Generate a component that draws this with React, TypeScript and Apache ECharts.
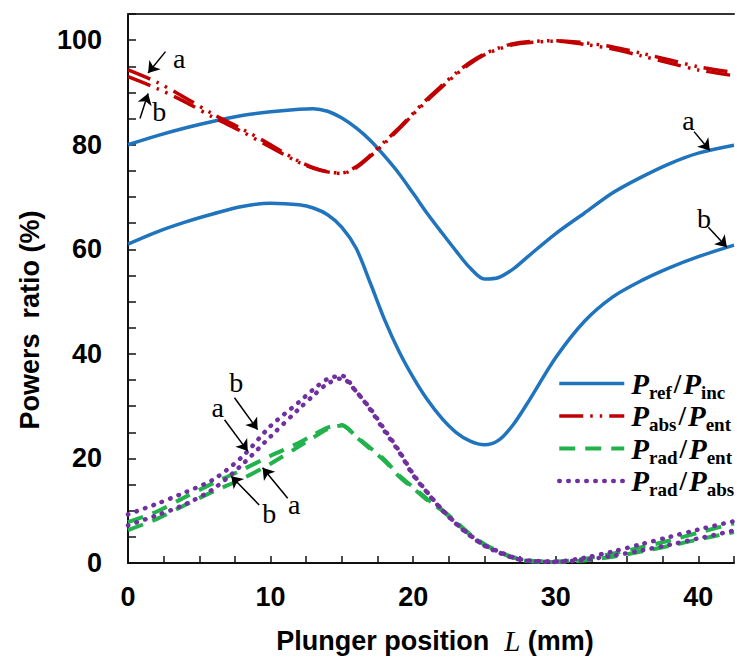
import React, { useEffect, useRef } from 'react';
import * as echarts from 'echarts';

// Plunger position L (mm)
const L = [0, 2, 4, 6, 8, 10, 12, 13, 14, 15, 16, 17, 18, 19, 20, 21, 22, 23, 24, 25, 26, 27, 28, 30, 32, 34, 36, 38, 40, 42.5];

// Pref/Pinc, curves a and b
const refA = [80, 81.7, 83.2, 84.5, 85.6, 86.3, 86.8, 86.9, 86.4, 85.1, 83.2, 80.8, 77.8, 74.5, 70.7, 66.8, 63.2, 59.7, 56.4, 54.3, 54.6, 56.2, 58.5, 63, 66.9, 70.8, 73.8, 76.4, 78.4, 79.9];
const refB = [61, 63.3, 65.2, 66.8, 68.2, 68.8, 68.5, 67.9, 66.6, 64.2, 60.2, 53.5, 46.5, 40.5, 35.5, 31.2, 27.7, 25, 23.3, 22.6, 23.5, 26.4, 30.5, 39.3, 46.2, 50.9, 54, 56.5, 58.6, 60.8];
// Pabs/Pent, curves a and b
const absA = [94.3, 92, 89, 85.8, 83, 80, 76.8, 75.6, 74.8, 74.6, 75.8, 78, 80.6, 83.2, 86, 88.8, 91.3, 93.7, 95.8, 97.4, 98.5, 99.3, 99.7, 99.9, 99.5, 98.7, 97.5, 96.2, 94.9, 93.8];
const absB = [93, 90.8, 88.2, 85.2, 82.5, 79.5, 76.6, 75.5, 74.8, 74.5, 75.6, 77.8, 80.3, 83, 85.8, 88.5, 91, 93.4, 95.5, 97.2, 98.3, 99.1, 99.5, 99.8, 99.2, 98.3, 97, 95.6, 94.3, 93.2];
// Prad/Pent, curves a and b
const radEntA = [7.8, 9.8, 12.6, 15.3, 17.8, 20.5, 23, 24.5, 25.9, 26.4, 24.2, 22, 19.7, 16.8, 14.5, 12.2, 10.2, 7.9, 5.5, 3.6, 2.2, 1.1, 0.5, 0.3, 0.8, 1.8, 3, 4.3, 5.8, 7.6];
const radEntB = [6.3, 8.4, 11.1, 13.7, 16.1, 19, 22.3, 24, 25.6, 26.3, 24.1, 21.8, 19.5, 16.6, 14.3, 12, 10.1, 7.7, 5.4, 3.5, 2.1, 1, 0.4, 0.2, 0.5, 1.2, 2.2, 3.3, 4.5, 5.9];
// Prad/Pabs, curves a and b
const radAbsA = [7.2, 9.1, 11.2, 14.2, 18.8, 24.2, 29.5, 32, 34.3, 35.3, 32.8, 29.3, 25.2, 21.3, 16.8, 13.4, 10.2, 7.5, 5.2, 3.3, 2, 1, 0.4, 0.2, 0.6, 1.4, 2.4, 3.5, 4.7, 6.2];
const radAbsB = [9.3, 11.3, 13.5, 16, 20.3, 26.2, 30.8, 33.2, 35.2, 35.8, 32.8, 29.5, 25.5, 21.5, 17, 13.5, 10.3, 7.6, 5.3, 3.4, 2.2, 1.1, 0.5, 0.3, 1, 2.2, 3.6, 5, 6.4, 8];

const xTickLabels = ['0', '10', '20', '30', '40'];
const yTickLabels = ['0', '20', '40', '60', '80', '100'];

const seriesNames = ['Pref/Pinc', 'Pabs/Pent', 'Prad/Pent', 'Prad/Pabs'];
const legendRichText: Record<string, string> = {
  'Pref/Pinc': '{P|P}{s|ref}{sl|/}{P|P}{s|inc}',
  'Pabs/Pent': '{P|P}{s|abs}{sl|/}{P|P}{s|ent}',
  'Prad/Pent': '{P|P}{s|rad}{sl|/}{P|P}{s|ent}',
  'Prad/Pabs': '{P|P}{s|rad}{sl|/}{P|P}{s|abs}',
};

// annotation labels [text, L, value]
const annoLabels: [string, number, number][] = [
  ['a', 3.6, 96.5], ['b', 2.2, 86.4],
  ['a', 39.3, 84.7], ['b', 40.4, 65.8],
  ['b', 7.6, 34.5], ['a', 6.3, 29.7],
  ['b', 9.9, 9.5], ['a', 11.65, 11.1],
];
// annotation arrows [fromL, fromV, toL, toV]
const annoArrows: [number, number, number, number][] = [
  [2.63, 97.8, 1.41, 93.7], [0.84, 85, 1.41, 89.8],
  [39.7, 82.5, 40.8, 78.9], [40.7, 64.2, 42.0, 60.4],
  [7.47, 31.6, 9.09, 25.5], [6.77, 27.4, 8.4, 21.4],
  [9.2, 11.1, 7.24, 16.6], [11.2, 12.4, 9.44, 18.2],
];

const pair = (ys: number[]) => L.map((x, i) => [x, ys[i]]);

export default function App() {
  const ref = useRef<HTMLDivElement>(null);
  useEffect(() => {
    if (!ref.current) return;
    const chart = echarts.init(ref.current, undefined, { renderer: 'svg' });
    const sans = '"Liberation Sans", Arial, sans-serif';
    const serif = '"Liberation Serif", "Times New Roman", serif';
    const blue = { color: '#1f74bd', width: 3.5, type: 'solid' as any };
    const red = { color: '#c00000', width: 3.5, type: [24, 7, 2.5, 7, 2.5, 7] as any };
    const green = { color: '#22b24c', width: 4, type: [16, 10] as any };
    const purple = { color: '#7030a0', width: 4.5, type: [0.5, 8.5] as any, cap: 'round' as any };
    const mk = (name: string, data: number[], ls: any) => ({
      type: 'line', name, data: pair(data), symbol: 'none', smooth: 0.3,
      lineStyle: ls, itemStyle: { color: ls.color }, z: 3,
    });
    const hidden = { color: 'rgba(0,0,0,0)', borderColor: 'rgba(0,0,0,0)', borderWidth: 0 };
    const option: any = {
      animation: false,
      grid: { left: 128, top: 14, right: 0, bottom: 94 },
      xAxis: [
        {
          type: 'value', min: 0, max: 42.5, interval: 2.5,
          axisLine: { show: true, onZero: false, lineStyle: { color: '#111', width: 2 } },
          axisTick: { show: true, inside: true, length: 7, lineStyle: { color: '#111', width: 1.5 } },
          axisLabel: {
            margin: 20, color: '#000', fontFamily: sans, fontWeight: 'bold', fontSize: 27,
            formatter: (v: number) => (xTickLabels.includes(String(v)) ? String(v) : ''),
          },
          splitLine: { show: false },
        },
        {
          type: 'value', position: 'top', min: 0, max: 42.5,
          axisLine: { show: true, onZero: false, lineStyle: { color: '#333', width: 2 } },
          axisTick: { show: false }, axisLabel: { show: false }, splitLine: { show: false },
        },
      ],
      yAxis: {
        type: 'value', min: 0, max: 105, interval: 5,
        axisLine: { show: true, onZero: false, lineStyle: { color: '#111', width: 2 } },
        axisTick: { show: true, inside: true, length: 8, lineStyle: { color: '#111', width: 1.5 } },
        axisLabel: {
          margin: 26, color: '#000', fontFamily: sans, fontWeight: 'bold', fontSize: 27,
          formatter: (v: number) => (yTickLabels.includes(String(v)) ? String(v) : ''),
        },
        splitLine: { show: false },
      },
      legend: {
        orient: 'vertical', left: 552, top: 364, itemGap: 0, itemWidth: 65, itemHeight: 14,
        itemStyle: hidden,
        data: [
          { name: seriesNames[0], lineStyle: { width: 3.5 }, itemStyle: hidden },
          { name: seriesNames[1], lineStyle: { width: 3.5 }, itemStyle: hidden },
          { name: seriesNames[2], lineStyle: { width: 4 }, itemStyle: hidden },
          { name: seriesNames[3], lineStyle: { width: 4.5 }, itemStyle: hidden },
        ],
        formatter: (n: string) => legendRichText[n] || n,
        textStyle: {
          color: '#000',
          rich: {
            P: { fontFamily: serif, fontStyle: 'italic', fontWeight: 'bold', fontSize: 29, lineHeight: 36, color: '#000', padding: [0, 0, 0, 2] },
            s: { fontFamily: serif, fontWeight: 'bold', fontSize: 19, lineHeight: 18, verticalAlign: 'bottom', color: '#000' },
            sl: { fontFamily: serif, fontWeight: 'bold', fontSize: 27, lineHeight: 36, color: '#000', padding: [0, 0, 0, 2] },
          },
        },
      },
      series: [
        mk(seriesNames[0], refA, blue),
        mk(seriesNames[0], refB, blue),
        mk(seriesNames[1], absA, red),
        mk(seriesNames[1], absB, red),
        mk(seriesNames[2], radEntA, green),
        mk(seriesNames[2], radEntB, green),
        mk(seriesNames[3], radAbsA, purple),
        mk(seriesNames[3], radAbsB, purple),
        {
          type: 'line', name: 'annotations', data: [], symbol: 'none', silent: true, z: 5,
          markLine: {
            silent: true, symbol: ['none', 'arrow'], symbolSize: 11,
            lineStyle: { color: '#000', width: 1.5, type: 'solid' },
            label: { show: false },
            data: annoArrows.map(([x1, y1, x2, y2]) => [{ coord: [x1, y1] }, { coord: [x2, y2] }]),
          },
          markPoint: {
            silent: true, symbol: 'circle', symbolSize: 1,
            itemStyle: { color: 'rgba(0,0,0,0)' },
            label: { show: true, position: 'inside', formatter: '{b}', color: '#000', fontFamily: serif, fontSize: 28 },
            data: annoLabels.map(([t, x, y]) => ({ name: t, coord: [x, y] })),
          },
        },
      ],
      graphic: [
        {
          type: 'text', x: 30, y: 320, rotation: Math.PI / 2,
          style: {
            text: 'Powers  ratio (%)', fill: '#000', font: `bold 27px ${sans}`,
            align: 'center', verticalAlign: 'middle',
          },
        },
        {
          type: 'text', x: 435, y: 641,
          style: {
            text: '{b|Plunger position  }{i|L}{b| (mm)}', align: 'center', verticalAlign: 'middle',
            rich: {
              b: { fontFamily: sans, fontWeight: 'bold', fontSize: 27, fill: '#000' },
              i: { fontFamily: serif, fontStyle: 'italic', fontSize: 29, fill: '#000' },
            },
          },
        },
      ],
    };
    chart.setOption(option);
    return () => chart.dispose();
  }, []);
  return <div ref={ref} style={{ position: 'absolute', left: 0, top: 0, width: 737, height: 657 }} />;
}
